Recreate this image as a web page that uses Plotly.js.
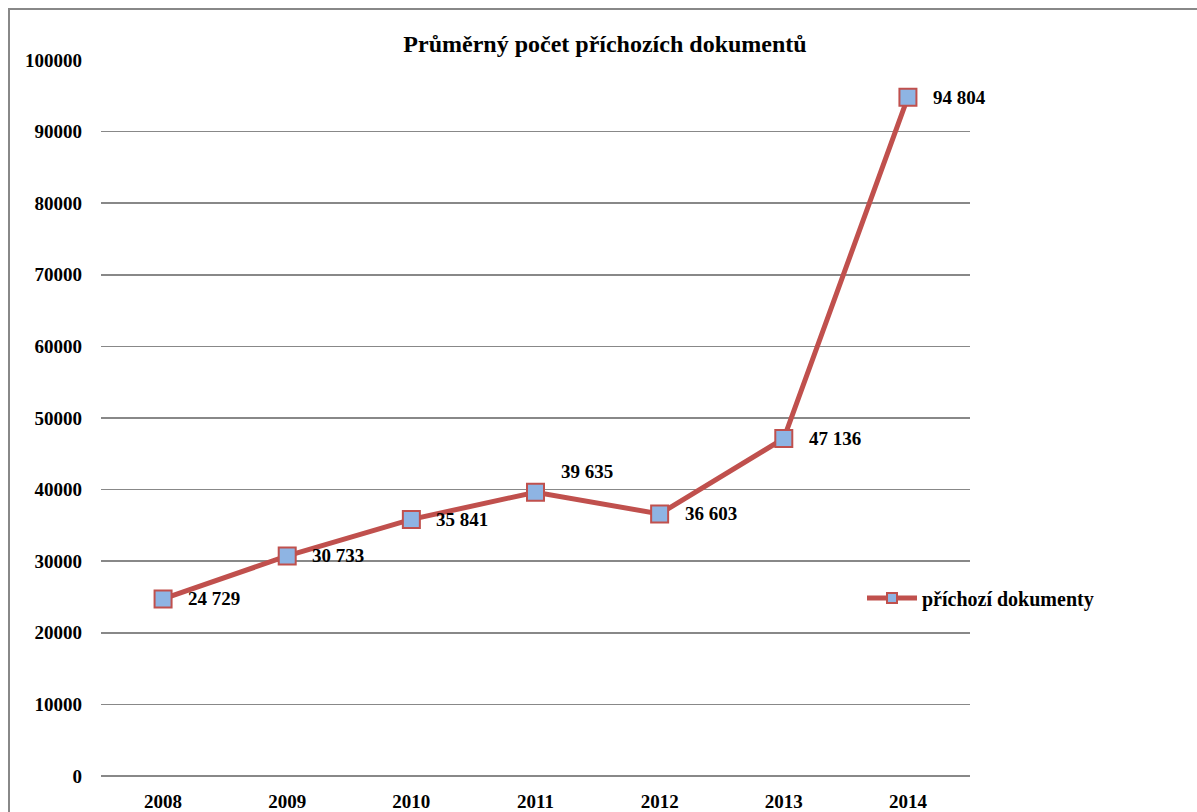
<!DOCTYPE html>
<html>
<head>
<meta charset="utf-8">
<script src="https://cdn.plot.ly/plotly-3.0.1.min.js"></script>
<style>html,body{margin:0;padding:0;background:#fff;}#chart{width:1197px;height:812px;}</style>
</head>
<body>
<div id="chart"></div>
<script>
const years = ['2008','2009','2010','2011','2012','2013','2014'];
const values = [24729, 30733, 35841, 39635, 36603, 47136, 94804];
const labels = ['24 729','30 733','35 841','39 635','36 603','47 136','94 804'];
const seriesName = 'příchozí dokumenty';
const titleText = 'Průměrný počet příchozích dokumentů';

const W = 1197, H = 812;
const L = 101, R = 227, T = 60, B = 36;
const pw = W - L - R, ph = H - T - B;
const px = v => (v - L) / pw;
const py = v => (H - B - v) / ph;

const font = 'Liberation Serif, Times New Roman, serif';

const trace = {
  x: years, y: values, type: 'scatter', mode: 'lines+markers', name: seriesName,
  line: {color: '#c0504d', width: 5},
  marker: {symbol: 'square', size: 17, color: '#8eb4e3', line: {color: '#c0504d', width: 2}},
  hoverinfo: 'skip', showlegend: false
};
const legendTrace = {
  x: [null], y: [null], type: 'scatter', mode: 'lines+markers', name: '<b>' + seriesName + '</b>',
  line: {color: '#c0504d', width: 5},
  marker: {symbol: 'square', size: 10, color: '#8eb4e3', line: {color: '#c0504d', width: 2}},
  hoverinfo: 'skip', showlegend: true
};

const annotations = years.map((yr, i) => ({
  x: i, y: values[i], xref: 'x', yref: 'y', text: '<b>' + labels[i] + '</b>',
  showarrow: false, xanchor: 'left', yanchor: 'middle',
  xshift: 23, yshift: (yr === '2011' ? 21 : 0),
  font: {family: font, size: 19, color: '#000'}
}));

const layout = {
  width: W, height: H,
  margin: {l: L, r: R, t: T, b: B},
  paper_bgcolor: '#fff', plot_bgcolor: '#fff',
  title: {text: '<b>' + titleText + '</b>', x: 605 / W, xanchor: 'center', xref: 'container',
          y: 1 - 44 / H, yanchor: 'middle', yref: 'container',
          font: {family: font, size: 24, color: '#000'}},
  xaxis: {type: 'category', range: [-0.5, 6.5], showgrid: false, zeroline: false, showline: false,
          ticks: '', tickfont: {family: font, size: 19, color: '#000'}, tickprefix: '<b>', ticksuffix: '</b>',
          ticklabelstandoff: 12, fixedrange: true},
  yaxis: {range: [0, 100000], dtick: 10000, tick0: 0, showgrid: true, gridcolor: '#888', gridwidth: 1.5,
          zeroline: true, zerolinecolor: '#888', zerolinewidth: 1.5, showline: false, ticks: '',
          tickfont: {family: font, size: 19, color: '#000'}, tickprefix: '<b>', ticksuffix: '</b>',
          tickformat: 'd', ticklabelstandoff: 18, fixedrange: true},
  showlegend: true,
  legend: {x: px(862), y: py(598), xanchor: 'left', yanchor: 'middle', bgcolor: 'rgba(0,0,0,0)',
           font: {family: font, size: 20, color: '#000'}, itemwidth: 50},
  annotations: annotations,
  shapes: [{type: 'rect', xref: 'paper', yref: 'paper', x0: px(9), x1: px(1240), y0: py(860), y1: py(9),
            line: {color: '#888', width: 2}, fillcolor: 'rgba(0,0,0,0)', layer: 'below'}]
};

Plotly.newPlot('chart', [trace, legendTrace], layout, {displayModeBar: false, staticPlot: true});
</script>
</body>
</html>
